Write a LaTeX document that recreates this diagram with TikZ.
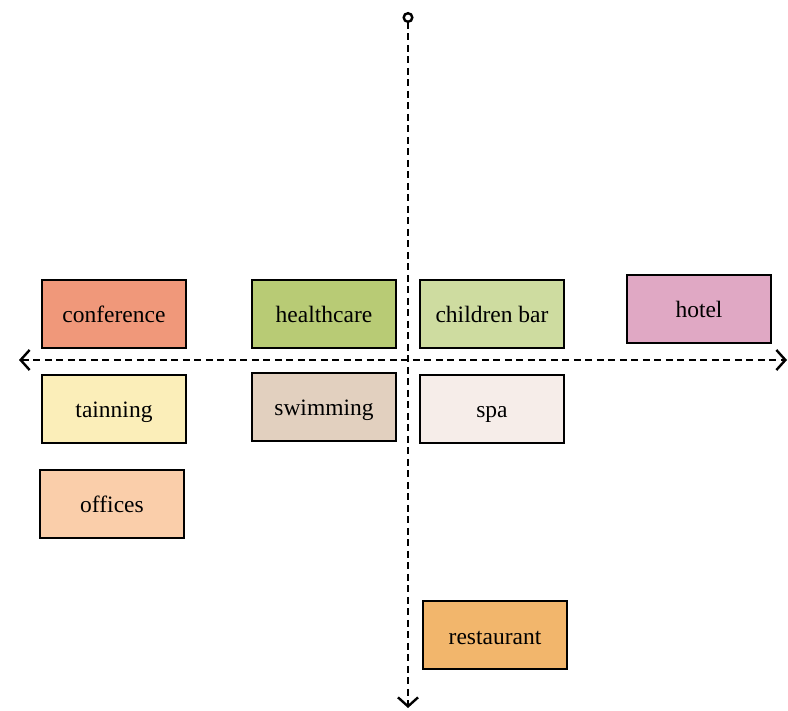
\documentclass[tikz,border=0pt]{standalone}
\usepackage{fontspec}
\setmainfont{Liberation Serif}
\usetikzlibrary{arrows.meta}
\definecolor{cConf}{HTML}{F0987A}
\definecolor{cHealth}{HTML}{B8CB75}
\definecolor{cChild}{HTML}{CEDCA0}
\definecolor{cHotel}{HTML}{E0A8C4}
\definecolor{cTrain}{HTML}{FBEEB9}
\definecolor{cSwim}{HTML}{E2D0BF}
\definecolor{cSpa}{HTML}{F6EDE9}
\definecolor{cOff}{HTML}{FACEAA}
\definecolor{cRest}{HTML}{F2B66C}
\begin{document}
\begin{tikzpicture}[x=1pt,y=-1pt,
  box/.style={draw=black,line width=2.4pt,minimum width=144pt,minimum height=68pt,inner sep=0pt,text height=21pt,text depth=3pt,font=\fontsize{23.5}{26}\selectfont},
  axis/.style={line width=2.4pt,dash pattern=on 7pt off 4.5pt}]
\useasboundingbox (0,0) rectangle (788,711);
\node[box,fill=cConf] (conf) at (114,314) {conference};
\node[box,fill=cHealth] (health) at (324,314) {healthcare};
\node[box,fill=cChild] (child) at (492,314) {children bar};
\node[box,fill=cHotel] (hotel) at (699,309) {hotel};
\node[box,fill=cTrain] (train) at (114,409) {tainning};
\node[box,fill=cSwim] (swim) at (324,407) {swimming};
\node[box,fill=cSpa] (spa) at (492,409) {spa};
\node[box,fill=cOff] (off) at (112,504) {offices};
\node[box,fill=cRest] (rest) at (495,635) {restaurant};
\coordinate (top) at (408,12);
\coordinate (bot) at (408,708);
\coordinate (left) at (19,360);
\coordinate (right) at (787,360);
\draw[axis,{Circle[open,length=11pt,line width=2.4pt]}-{Straight Barb[length=9pt,width=20pt,line width=2.4pt]}] (top) -- (bot);
\draw[axis,{Straight Barb[length=9pt,width=20pt,line width=2.4pt]}-{Straight Barb[length=9pt,width=20pt,line width=2.4pt]}] (left) -- (right);
\end{tikzpicture}
\end{document}
